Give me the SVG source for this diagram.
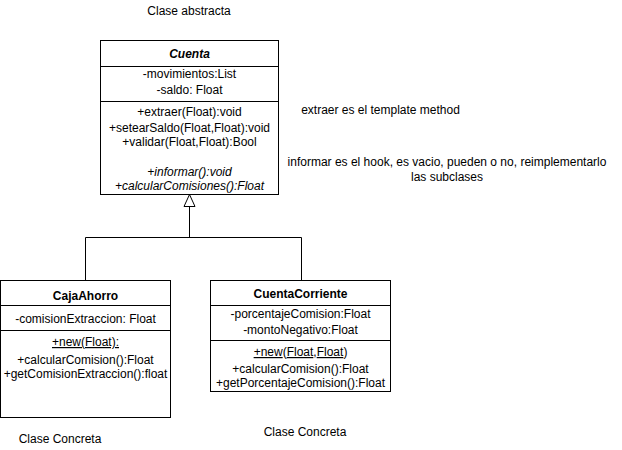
<svg xmlns="http://www.w3.org/2000/svg" width="622" height="450" viewBox="0 0 622 450">
<style>
text{font-family:"Liberation Sans",Arial,sans-serif;font-size:12px;fill:#000}
.c{text-anchor:middle}
.b{font-weight:bold}
.i{font-style:italic}
.u{text-decoration:underline}
.box{fill:#fff;stroke:#000;stroke-width:1}
.ln{stroke:#000;stroke-width:1;fill:none}
</style>
<rect width="622" height="450" fill="#fff"/>
<g id="connectors">
<path class="ln" d="M189.5 206.5V237.5M85.5 237.5H301.5M85.5 237.5V280.5M301.5 237.5V280.5"/>
<path d="M189.5 194.5L184 206.5H195Z" fill="#fff" stroke="#000" stroke-width="1"/>
</g>
<g id="Cuenta">
<rect class="box" x="100.5" y="40.5" width="178" height="154"/>
<path class="ln" d="M100.5 66.5H278.5M100.5 101.5H278.5"/>
<text class="c b i" x="189.5" y="58">Cuenta</text>
<text class="c" x="189.5" y="77.5">-movimientos:List</text>
<text class="c" x="189.5" y="93.5">-saldo: Float</text>
<text class="c" x="189.5" y="116">+extraer(Float):void</text>
<text class="c" x="189.5" y="132">+setearSaldo(Float,Float):void</text>
<text class="c" x="189.5" y="146">+validar(Float,Float):Bool</text>
<text class="c i" x="189.5" y="176">+informar():void</text>
<text class="c i" x="189.5" y="190">+calcularComisiones():Float</text>
</g>
<g id="CajaAhorro">
<rect class="box" x="0.5" y="280.5" width="170" height="137"/>
<path class="ln" d="M0.5 305.5H170.5M0.5 330.5H170.5"/>
<text class="c b" x="85.5" y="300">CajaAhorro</text>
<text class="c" x="85.5" y="323">-comisionExtraccion: Float</text>
<text class="c u" x="85.5" y="346">+new(Float):</text>
<text class="c" x="85.5" y="364">+calcularComision():Float</text>
<text class="c" x="85.5" y="378">+getComisionExtraccion():float</text>
</g>
<g id="CuentaCorriente">
<rect class="box" x="210.5" y="280.5" width="180" height="111"/>
<path class="ln" d="M210.5 305.5H390.5M210.5 340.5H390.5"/>
<text class="c b" x="300.5" y="298">CuentaCorriente</text>
<text class="c" x="300.5" y="317.5">-porcentajeComision:Float</text>
<text class="c" x="300.5" y="333.5">-montoNegativo:Float</text>
<text class="c" x="300.5" y="356"><tspan class="u">+new</tspan>(<tspan class="u">Float</tspan>,<tspan class="u">Float</tspan>)</text>
<text class="c" x="300.5" y="372.5">+calcularComision():Float</text>
<text class="c" x="300.5" y="386.5">+getPorcentajeComision():Float</text>
</g>
<g id="labels">
<text class="c" x="189" y="15">Clase abstracta</text>
<text class="c" x="380.5" y="114">extraer es el template method</text>
<text class="c" x="447" y="166">informar es el hook, es vacio, pueden o no, reimplementarlo</text>
<text class="c" x="447" y="181">las subclases</text>
<text class="c" x="60" y="443">Clase Concreta</text>
<text class="c" x="305" y="436">Clase Concreta</text>
</g>
</svg>
